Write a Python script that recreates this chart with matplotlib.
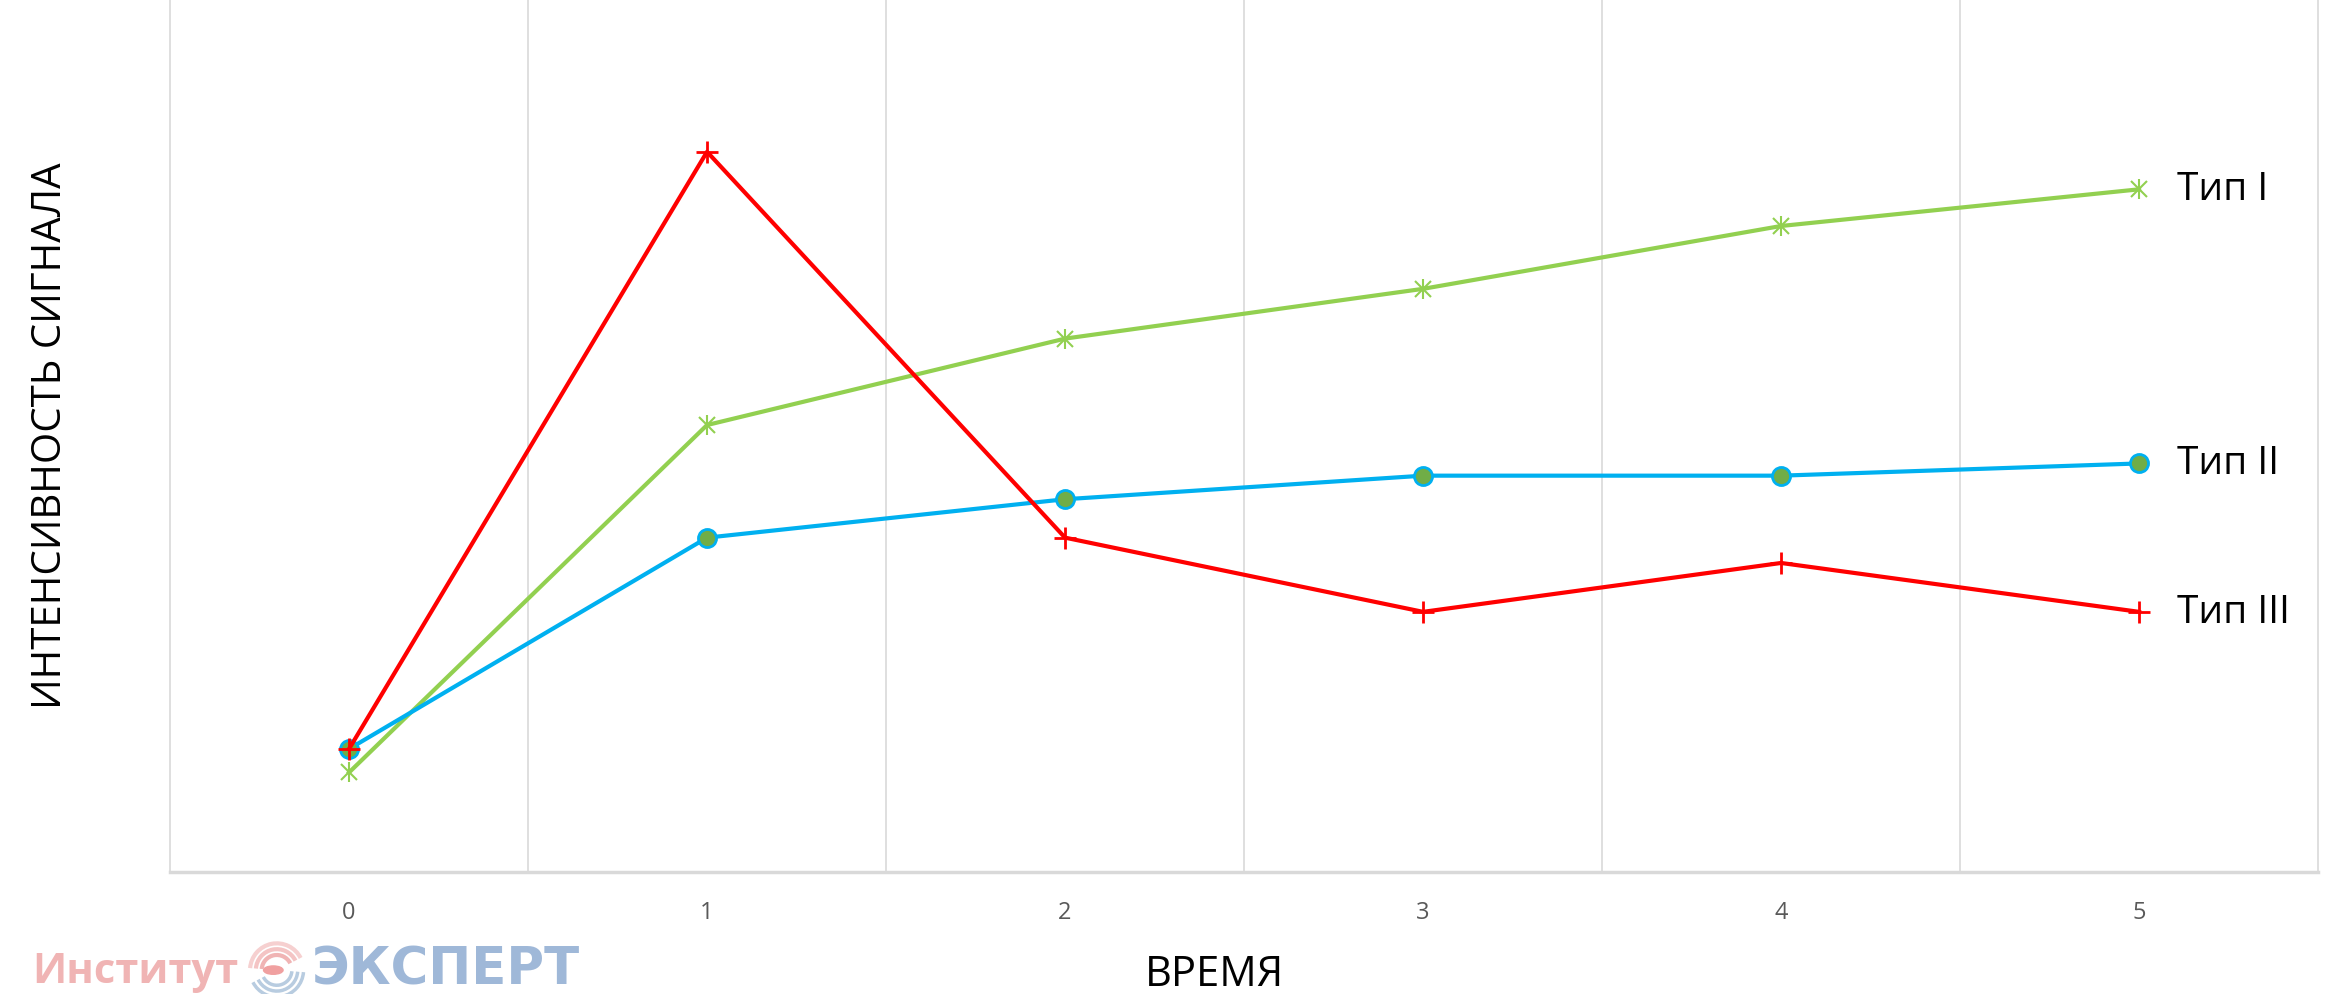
import numpy as np
import matplotlib.pyplot as plt
from matplotlib.patches import Arc, Circle

plt.rcParams['font.family'] = ['Open Sans', 'DejaVu Sans']

t = [0, 1, 2, 3, 4, 5]
tip1 = [1.14, 5.12, 6.11, 6.68, 7.40, 7.82]
tip2 = [1.41, 3.83, 4.27, 4.54, 4.54, 4.68]
tip3 = [1.41, 8.25, 3.83, 2.98, 3.54, 2.98]
names = ["Тип I", "Тип II", "Тип III"]

fig = plt.figure(figsize=(23.26, 9.95), dpi=100)
ax = fig.add_axes([0.0731, 0.1226, 0.9235, 0.8774])

ax.plot(t, tip1, color='#92d050', lw=3, marker='x', ms=12, mew=1.5, zorder=3)
ax.plot(t, tip1, color='none', marker='|', ms=14, mew=1.5, mec='#92d050', zorder=3)
ax.plot(t, tip2, color='#00b0f0', lw=3, marker='o', ms=13, mfc='#70ad47', mec='#00b0f0', mew=2, zorder=4)
ax.plot(t, tip3, color='#ff0000', lw=3, marker='+', ms=16, mew=2, zorder=5)

for vals, nm in zip([tip1, tip2, tip3], names):
    ax.annotate(nm, (t[-1], vals[-1]), xytext=(27, 0), textcoords='offset points',
                va='center', ha='left', fontsize=28, color='black')

ax.set_xlim(-0.5, 5.5)
ax.set_ylim(0, 10)
ax.set_xticks(t)
ax.set_xticks(np.arange(0.5, 5, 1), minor=True)
ax.set_yticks([])
ax.grid(which='minor', axis='x', color='#d9d9d9', lw=1.2)
ax.tick_params(axis='x', which='both', length=0)
ax.tick_params(axis='x', which='major', pad=20, labelsize=17, labelcolor='#595959')
for s in ['left', 'right']:
    ax.spines[s].set_color('#d9d9d9')
    ax.spines[s].set_linewidth(1.2)
ax.spines['top'].set_visible(False)
ax.spines['bottom'].set_color('#d9d9d9')
ax.spines['bottom'].set_linewidth(2.5)

fig.text(0.022, 0.562, "ИНТЕНСИВНОСТЬ СИГНАЛА", rotation=90, ha='center', va='center', fontsize=29)
fig.text(0.522, 0.02, "ВРЕМЯ", ha='center', va='center', fontsize=30)

# watermark
fig.text(0.014, 0.023, "Институт", ha='left', va='center', fontsize=30, fontweight='bold', color='#f0b4b4')
fig.text(0.134, 0.025, "ЭКСПЕРТ", ha='left', va='center', fontsize=37, fontweight='bold',
         family='DejaVu Sans', color='#9fb8d8')
fig.patches.append(Circle((0.1175, 0.024), 0.0042, transform=fig.transFigure, color='#f0a0a0'))
for r, c in [(0.013, '#f0b4b4'), (0.018, '#f4c4c4'), (0.023, '#f6d0d0')]:
    fig.patches.append(Arc((0.119, 0.024), r, r * 2.34, theta1=50, theta2=170,
                           transform=fig.transFigure, color=c, lw=3))
    fig.patches.append(Arc((0.119, 0.024), r, r * 2.34, theta1=230, theta2=350,
                           transform=fig.transFigure, color='#b8cce0', lw=2.5))

fig.savefig("out.png", dpi=100)
